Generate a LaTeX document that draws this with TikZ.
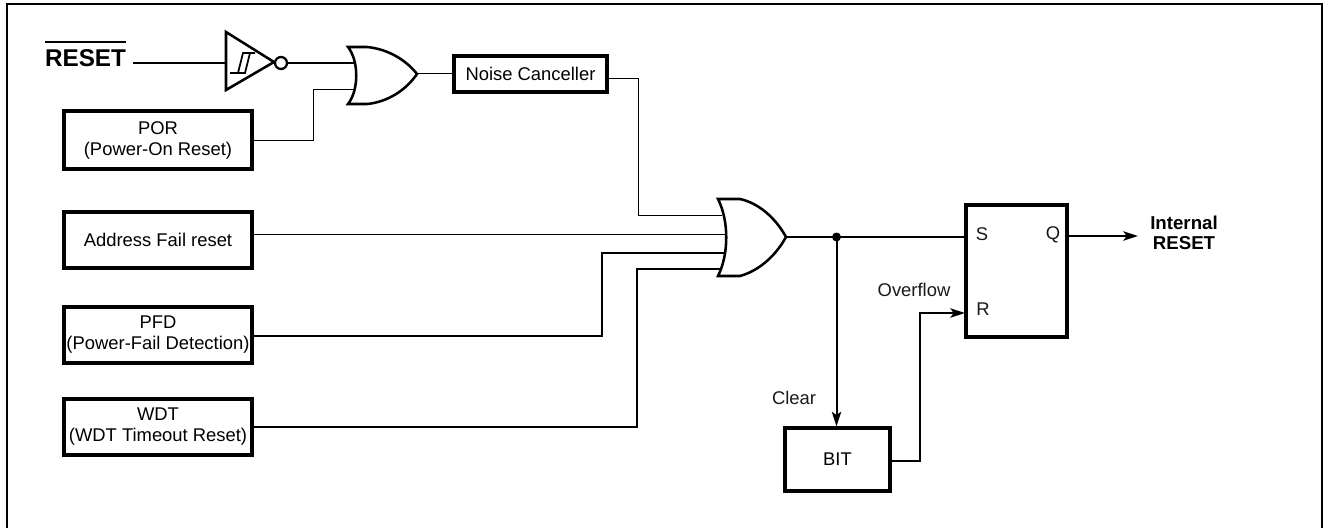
\documentclass[tikz,border=0pt]{standalone}
\usepackage{fontspec}
\setmainfont{Liberation Sans}
\usetikzlibrary{arrows.meta}
\tikzset{
  x=0.75pt,y=-0.75pt,
  blockbox/.style={draw=black,fill=white,inner sep=0pt,align=center,font=\fontsize{13.8}{15.75}\selectfont,anchor=center,line width=2.4pt},
  lbl/.style={inner sep=0pt,font=\fontsize{13.8}{15.75}\selectfont,text=black!90},
  boldlbl/.style={inner sep=0pt,align=center,font=\fontsize{14}{15}\selectfont\bfseries},
  thinw/.style={line width=0.75pt},
  thickw/.style={line width=1.5pt},
  gateline/.style={line width=1.9pt,fill=white,line join=miter},
  tip/.style={-{Stealth[length=11pt,width=7pt,inset=2.5pt]}},
}
\newcommand{\bx}[6]{\node[blockbox,minimum width=#4*0.75pt,minimum height=#5*0.75pt] (#1) at ({#2+#4/2},{#3+#5/2}) {#6};}
\begin{document}
\begin{tikzpicture}
\useasboundingbox (0,0) rectangle (1323,528);
% open frame: left, top and right edges
\coordinate (fbl) at (7,528);
\coordinate (ftl) at (7,4);
\coordinate (ftr) at (1322,4);
\coordinate (fbr) at (1322,528);
\draw[line width=1.6pt] (fbl) -- (ftl) -- (ftr) -- (fbr);

% labels and boxes
\node[inner sep=0pt,font=\fontsize{18.2}{20}\selectfont\bfseries,anchor=center] (reset) at (85.5,58.5) {RESET};
\coordinate (ovl) at (45,42);
\coordinate (ovr) at (126,42);
\draw[line width=1.7pt] (ovl) -- (ovr);
\coordinate (resetout) at (133,63);

\bx{por}{64}{111}{188}{58}{POR\\(Power-On Reset)}
\bx{noise}{454}{56}{153}{36}{Noise Canceller}
\bx{addr}{64}{212}{188}{56}{Address Fail reset}
\bx{pfd}{64}{307}{188}{56}{PFD\\(Power-Fail Detection)}
\bx{wdt}{64}{399}{188}{56}{WDT\\(WDT Timeout Reset)}
\bx{ff}{966}{205}{101}{132}{}
\bx{bit}{785}{428}{105}{63}{BIT}

% Schmitt inverter
\coordinate (invtl) at (226,32);
\coordinate (invbl) at (226,90);
\coordinate (invtip) at (274,62);
\draw[gateline,line join=miter] (invtl) -- (invtip) -- (invbl) -- cycle;
\node[draw=black,line width=1.7pt,circle,minimum size=12*0.75pt,inner sep=0pt,fill=white] (bubble) at (281,63) {};
\draw[line width=1.3pt] (230,73) -- (245,73) -- (250,53);
\draw[line width=1.3pt] (238,73) -- (243,53) -- (255,53);

% OR gate 1
\coordinate (oa) at (348,47);
\coordinate (ob) at (348,104);
\coordinate (otip) at (417,74);
\coordinate (oin1) at (355,63);
\coordinate (oin2) at (355,89);
\draw[gateline] (oa) -- (367,47) .. controls (388,49) and (406,60) .. (otip)
  .. controls (406,90) and (388,102) .. (367,104) -- (ob)
  .. controls (359,90) and (359,61) .. (oa) -- cycle;

% OR gate 2
\coordinate (ga) at (718,199);
\coordinate (gb) at (718,276);
\coordinate (gtip) at (786,237);
\coordinate (gin1) at (722,215);
\coordinate (gin2) at (725,234);
\coordinate (gin3) at (725,253);
\coordinate (gin4) at (722,269);
\draw[gateline] (ga) -- (740,199) .. controls (758,203) and (775,217) .. (gtip)
  .. controls (775,257) and (758,271) .. (740,276) -- (gb)
  .. controls (729,254) and (729,221) .. (ga) -- cycle;

% connectors
\draw[thickw] (resetout) -- (invtl |- resetout);
\draw[thickw] (bubble.east) -- (oin1);
\draw[thinw] (por.east) -| (313,89) -- (oin2);
\draw[thinw] (otip) -- (noise.west);
\coordinate (noiseout) at (607,79);
\draw[thinw] (noiseout) -| (638,215) -- (gin1);
\coordinate (addrout) at (252,234);
\draw[thinw] (addrout) -- (gin2);
\coordinate (pfdout) at (251,336);
\draw[thickw] (pfdout) -| (602,253) -- (gin3);
\coordinate (wdtout) at (252,427);
\draw[thickw] (wdtout) -| (637,269) -- (gin4);

\coordinate (sin) at (966,237);
\draw[thickw] (gtip) -- (sin);
\node[circle,fill=black,minimum size=9*0.75pt,inner sep=0pt] (dot) at (836.5,237) {};
\draw[thickw,tip] (dot.center) -- (bit.north -| dot.center);
\coordinate (bitout) at (890,461);
\coordinate (rin) at (965,313);
\draw[thickw,tip] (bitout) -| (919.5,313) -- (rin);
\coordinate (qout) at (1067,236);
\coordinate (irst) at (1138,236);
\draw[thickw,tip] (qout) -- (irst);

% text labels
\node[lbl] (s) at (982,234) {S};
\node[lbl] (q) at (1053,235) {Q};
\node[lbl] (r) at (983,309) {R};
\node[lbl] (ovf) at (914,290) {Overflow};
\node[lbl] (clr) at (794,398) {Clear};
\node[boldlbl] (int) at (1184,233) {Internal\\RESET};
\end{tikzpicture}
\end{document}
